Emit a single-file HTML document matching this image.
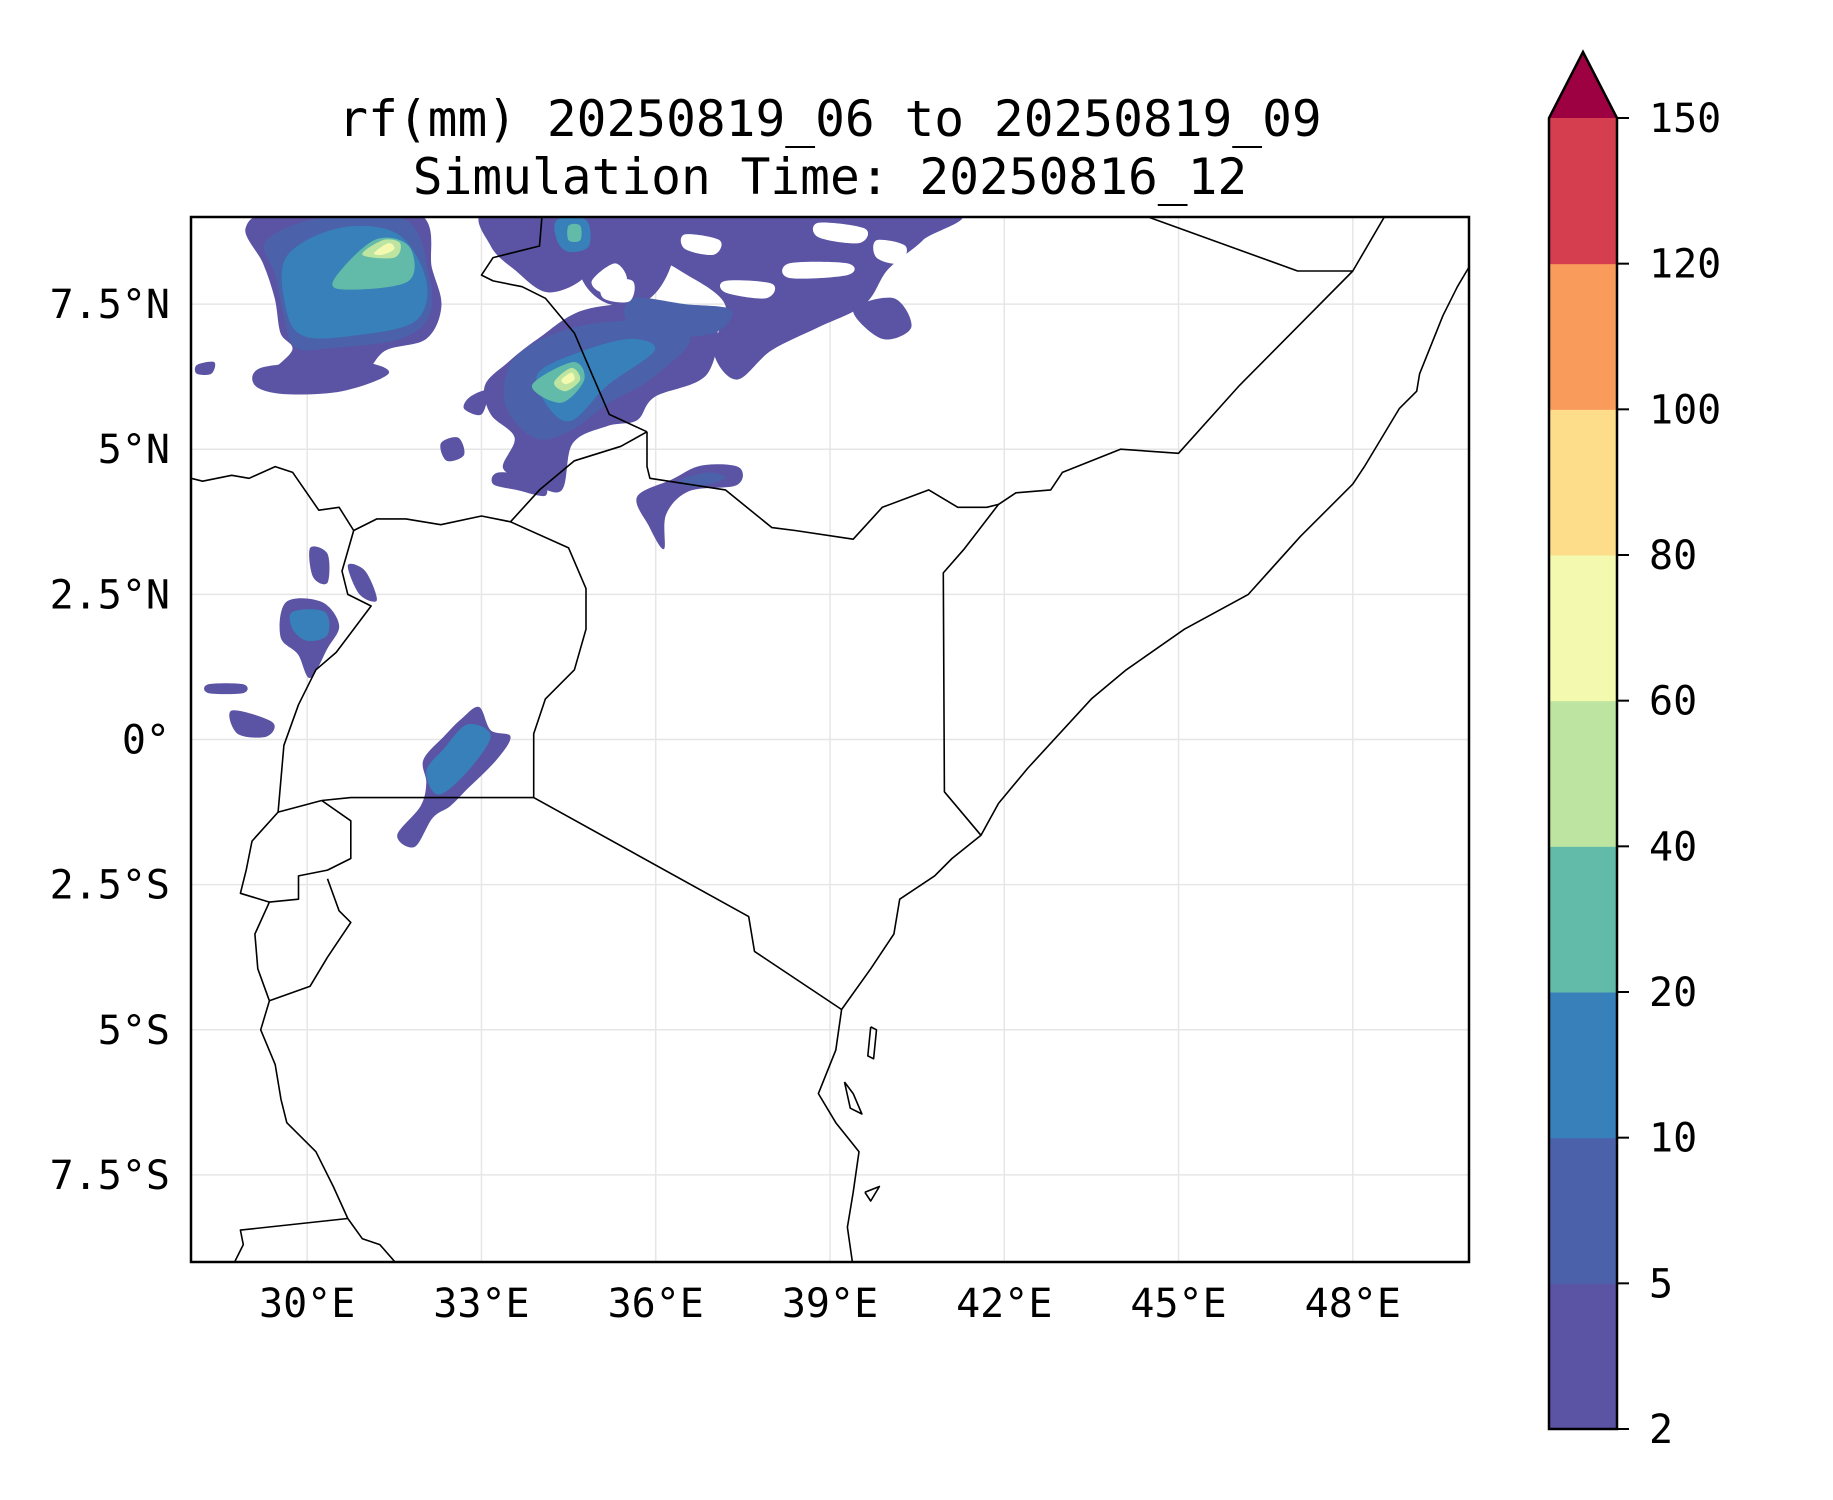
<!DOCTYPE html>
<html><head><meta charset="utf-8">
<style>
html,body{margin:0;padding:0;background:#fff;}
svg{display:block;font-family:"DejaVu Sans Mono","Liberation Mono",monospace;}
</style></head>
<body>
<svg id="fig" width="1833" height="1500" viewBox="0 0 1833 1500" xmlns="http://www.w3.org/2000/svg">
<rect width="1833" height="1500" fill="#fff"/>
<text x="830" y="136" font-size="49.5" text-anchor="middle">rf(mm) 20250819_06 to 20250819_09</text>
<text x="830" y="194" font-size="49.5" text-anchor="middle">Simulation Time: 20250816_12</text>
<defs><clipPath id="axclip"><rect x="191" y="217" width="1278" height="1045"/></clipPath></defs>
<g id="grid"></g>
<g id="rain" clip-path="url(#axclip)"></g>
<g id="borders" clip-path="url(#axclip)"></g>
<rect x="191" y="217" width="1278" height="1045" fill="none" stroke="#000" stroke-width="2.5"/>
<g id="ticks"></g>
<g id="cbar"></g>
</svg>
<script>
const lonMin=28, lonMax=50, latMin=-9, latMax=9;
const lonTicks=[30,33,36,39,42,45,48];
const lonTickLabels=["30°E","33°E","36°E","39°E","42°E","45°E","48°E"];
const latTicks=[7.5,5,2.5,0,-2.5,-5,-7.5];
const latTickLabels=["7.5°N","5°N","2.5°N","0°","2.5°S","5°S","7.5°S"];
const levels=[2,5,10,20,40,60,80,100,120,150];
const levelColors=["#5b53a3","#4b62ab","#3780b9","#62bba9","#bde4a0","#f3f9ae","#fddd89","#f99c5b","#d53e4f"];
const overColor="#9e0142";

const AX={x0:191,x1:1469,y0:217,y1:1262};
function X(lon){return AX.x0+(lon-lonMin)/(lonMax-lonMin)*(AX.x1-AX.x0);}
function Y(lat){return AX.y0+(latMax-lat)/(latMax-latMin)*(AX.y1-AX.y0);}
const NS="http://www.w3.org/2000/svg";
function mk(tag,attrs,parent){const e=document.createElementNS(NS,tag);for(const k in attrs)e.setAttribute(k,attrs[k]);parent.appendChild(e);return e;}

const rainBlobs=[
 {lvl:0,pts:[[28.94,8.81],[29.54,9.1],[31.85,9.1],[32.15,8.11],[32.31,7.46],[32.05,6.9],[31.35,6.7],[30.95,6.3],[30.15,6.1],[29.54,6.1],[29.24,6.2],[29.74,6.7],[29.54,7.0],[29.44,7.6],[29.24,8.2]]},
 {lvl:1,pts:[[29.3,8.6],[30.3,9.0],[31.7,8.95],[32.1,8.0],[32.1,7.3],[31.6,6.9],[30.5,6.75],[29.8,6.75],[29.6,7.3],[29.45,8.0]]},
 {lvl:2,pts:[[29.64,8.31],[30.55,8.81],[31.55,8.71],[32.05,7.9],[31.85,7.2],[30.75,6.95],[29.94,6.95],[29.64,7.4]]},
 {lvl:3,pts:[[30.45,7.9],[31.15,8.6],[31.75,8.5],[31.75,7.9],[30.75,7.75]]},
 {lvl:4,pts:[[30.95,8.35],[31.3,8.6],[31.6,8.55],[31.5,8.3]]},
 {lvl:5,pts:[[31.15,8.38],[31.4,8.55],[31.5,8.45],[31.3,8.35]]},
 {lvl:0,pts:[[29.2,6.4],[30.2,6.5],[31.0,6.5],[31.4,6.3],[30.6,6.0],[29.6,5.95],[29.1,6.1]]},
 {lvl:0,pts:[[33.06,9.1],[34.77,9.1],[34.87,8.1],[34.17,7.7],[33.56,8.1],[33.16,8.5]]},
 {lvl:0,pts:[[34.6,9.1],[36.2,9.1],[36.3,8.3],[35.9,7.6],[35.2,7.5],[34.7,8.0]]},
 {lvl:2,pts:[[34.3,8.95],[34.8,8.95],[34.85,8.5],[34.5,8.4],[34.3,8.6]]},
 {lvl:3,pts:[[34.5,8.85],[34.7,8.85],[34.7,8.6],[34.5,8.6]]},
 {lvl:0,pts:[[33.97,6.9],[34.77,7.4],[35.98,7.5],[36.99,7.3],[36.89,6.3],[35.98,5.9],[35.68,5.5],[35.17,5.4],[34.57,5.1],[34.37,4.28],[33.77,4.48],[33.37,4.68],[33.57,5.2],[33.16,5.6],[33.06,6.1],[33.46,6.5]]},
 {lvl:1,pts:[[33.6,6.6],[34.6,7.1],[35.9,7.2],[36.6,6.9],[35.9,6.2],[35.2,5.8],[34.5,5.3],[33.9,5.2],[33.4,5.8]]},
 {lvl:2,pts:[[33.97,6.3],[34.77,6.7],[35.58,6.9],[35.98,6.7],[35.17,6.1],[34.57,5.5],[34.17,5.7]]},
 {lvl:3,pts:[[33.87,6.1],[34.57,6.5],[34.77,6.2],[34.37,5.8]]},
 {lvl:4,pts:[[34.25,6.15],[34.55,6.4],[34.7,6.2],[34.45,6.0]]},
 {lvl:5,pts:[[34.38,6.2],[34.55,6.32],[34.6,6.2],[34.45,6.12]]},
 {lvl:0,pts:[[35.98,9.1],[41.0,9.1],[40.6,8.6],[40.0,8.1],[39.6,7.5],[38.8,7.1],[37.99,6.7],[37.39,6.2],[36.99,6.7],[37.19,7.5],[36.38,8.1],[35.88,8.4]]},
 {lvl:0,pts:[[39.4,7.4],[40.1,7.6],[40.4,7.1],[39.9,6.9]]},
 {lvl:1,pts:[[35.6,7.6],[36.5,7.5],[37.3,7.4],[37.0,7.0],[36.0,6.95],[35.5,7.2]]},
 {lvl:0,pts:[[35.68,4.18],[36.28,4.48],[36.79,4.72],[37.43,4.69],[37.39,4.38],[36.58,4.28],[36.18,3.88],[36.14,3.28],[35.88,3.68]]},
 {lvl:1,pts:[[36.4,4.45],[36.9,4.6],[37.2,4.5],[36.7,4.35]]},
 {lvl:0,pts:[[33.3,4.6],[34.0,4.5],[34.1,4.2],[33.6,4.3],[33.2,4.4]]},
 {lvl:0,pts:[[29.64,2.37],[30.25,2.37],[30.55,1.97],[30.35,1.57],[30.05,1.06],[29.84,1.47],[29.54,1.77]]},
 {lvl:2,pts:[[29.75,2.2],[30.3,2.2],[30.35,1.8],[30.0,1.7],[29.75,1.9]]},
 {lvl:0,pts:[[30.05,3.3],[30.35,3.2],[30.35,2.7],[30.1,2.8]]},
 {lvl:0,pts:[[30.7,3.0],[31.0,2.9],[31.2,2.4],[30.9,2.5]]},
 {lvl:0,pts:[[28.3,0.95],[28.9,0.95],[28.9,0.8],[28.3,0.8]]},
 {lvl:0,pts:[[28.7,0.5],[29.4,0.3],[29.3,0.05],[28.8,0.1]]},
 {lvl:0,pts:[[28.1,6.45],[28.4,6.5],[28.35,6.3],[28.1,6.3]]},
 {lvl:0,pts:[[32.96,0.56],[33.16,0.16],[33.5,0.05],[33.26,-0.35],[32.76,-0.85],[32.46,-1.15],[32.16,-1.35],[31.85,-1.85],[31.55,-1.65],[31.95,-1.15],[32.05,-0.75],[32.0,-0.35],[32.36,0.06],[32.66,0.36]]},
 {lvl:2,pts:[[32.76,0.26],[33.16,0.06],[32.76,-0.55],[32.26,-0.95],[32.05,-0.55],[32.36,-0.15]]},
 {lvl:0,pts:[[32.3,5.1],[32.6,5.2],[32.7,4.9],[32.4,4.8]]},
 {lvl:0,pts:[[32.8,5.9],[33.1,6.0],[33.0,5.6],[32.7,5.7]]}
];
const rainHoles=[
 {pts:[[38.3,8.2],[39.3,8.2],[39.3,8.0],[38.3,7.95]]},
 {pts:[[37.2,7.9],[38.0,7.85],[37.9,7.6],[37.2,7.7]]},
 {pts:[[38.8,8.9],[39.6,8.8],[39.5,8.55],[38.8,8.65]]},
 {pts:[[36.5,8.7],[37.1,8.6],[37.0,8.35],[36.5,8.45]]},
 {pts:[[39.8,8.6],[40.3,8.5],[40.2,8.2],[39.8,8.3]]},
 {pts:[[35.1,7.9],[35.6,7.9],[35.55,7.55],[35.1,7.6]]},
 {pts:[[34.9,7.9],[35.3,8.2],[35.5,7.9],[35.1,7.7]]}
];
const lines=[
 [[49.96,8.07],[49.8,7.8],[49.55,7.3],[49.15,6.3],[49.1,6.0],[48.8,5.7],[48.2,4.7],[48.0,4.4],[47.1,3.5],[46.2,2.5],[45.1,1.9],[44.1,1.2],[43.5,0.7],[42.4,-0.5],[41.9,-1.1],[41.6,-1.65],[41.1,-2.05],[40.8,-2.35],[40.2,-2.75],[40.1,-3.35],[39.7,-3.95],[39.2,-4.65],[39.1,-5.35],[38.8,-6.1],[39.1,-6.6],[39.5,-7.1],[39.4,-7.8],[39.3,-8.4],[39.4,-9.1]],
 [[50.1,8.3],[49.96,8.07]],
 [[41.6,-1.65],[40.97,-0.9],[40.95,2.87],[41.3,3.27],[41.9,4.05],[42.2,4.25],[42.8,4.3],[43.0,4.6],[44.0,5.0],[45.0,4.93],[46.05,6.1],[48.0,8.07],[48.6,9.1]],
 [[48.0,8.07],[47.05,8.07],[44.2,9.1]],
 [[41.9,4.05],[41.7,4.0],[41.2,4.0],[40.7,4.3],[39.9,4.0],[39.4,3.45],[38.4,3.6],[38.0,3.65],[37.2,4.3],[35.9,4.5],[35.85,4.7],[35.85,5.3]],
 [[35.85,5.3],[35.4,5.05],[34.6,4.8],[34.0,4.3],[33.5,3.75],[33.0,3.85],[32.3,3.7],[31.7,3.8],[31.2,3.8],[30.8,3.6],[30.55,4.0],[30.2,3.95],[29.75,4.6],[29.45,4.7],[29.0,4.5],[28.7,4.55],[28.2,4.45],[28.0,4.5]],
 [[35.85,5.3],[35.2,5.6],[34.9,6.3],[34.6,7.0],[34.1,7.6],[33.7,7.8],[33.2,7.9],[33.0,8.0],[33.2,8.3],[34.0,8.5],[34.05,9.1]],
 [[33.5,3.75],[34.5,3.3],[34.8,2.6],[34.8,1.9],[34.6,1.2],[34.1,0.7],[33.9,0.1],[33.9,-1.0]],
 [[33.9,-1.0],[37.6,-3.05],[37.7,-3.65],[39.2,-4.65]],
 [[33.9,-1.0],[30.75,-1.0],[30.25,-1.05]],
 [[30.8,3.6],[30.6,2.9],[30.7,2.5],[31.1,2.3],[30.5,1.5],[30.15,1.2],[29.85,0.6],[29.6,-0.1],[29.5,-1.25],[30.25,-1.05]],
 [[29.5,-1.25],[29.05,-1.75],[28.95,-2.25],[28.85,-2.65],[29.35,-2.8],[29.85,-2.75],[29.85,-2.35],[30.35,-2.25],[30.75,-2.05],[30.75,-1.4],[30.25,-1.05]],
 [[30.35,-2.4],[30.55,-2.95],[30.75,-3.15],[30.35,-3.75],[30.05,-4.25],[29.35,-4.5]],
 [[29.35,-2.8],[29.1,-3.35],[29.15,-3.95],[29.35,-4.5],[29.2,-5.0],[29.45,-5.6],[29.55,-6.2],[29.65,-6.6],[30.15,-7.1],[30.45,-7.7],[30.7,-8.25],[30.95,-8.6],[31.25,-8.7],[31.6,-9.1]],
 [[30.7,-8.25],[28.85,-8.45],[28.9,-8.7],[28.7,-9.1]],
 [[39.7,-4.95],[39.8,-5.0],[39.75,-5.5],[39.65,-5.45],[39.7,-4.95]],
 [[39.25,-5.9],[39.4,-6.1],[39.55,-6.45],[39.35,-6.35],[39.25,-5.9]],
 [[39.6,-7.8],[39.85,-7.7],[39.7,-7.95],[39.6,-7.8]]
];

function smoothPath(pts){
  const p=pts.map(q=>[X(q[0]),Y(q[1])]);const n=p.length;let d="M"+p[0][0].toFixed(1)+","+p[0][1].toFixed(1);
  for(let i=0;i<n;i++){const p0=p[(i-1+n)%n],p1=p[i],p2=p[(i+1)%n],p3=p[(i+2)%n];
    const c1=[p1[0]+(p2[0]-p0[0])/6,p1[1]+(p2[1]-p0[1])/6],c2=[p2[0]-(p3[0]-p1[0])/6,p2[1]-(p3[1]-p1[1])/6];
    d+="C"+c1.map(v=>v.toFixed(1))+" "+c2.map(v=>v.toFixed(1))+" "+p2.map(v=>v.toFixed(1));}
  return d+"Z";
}
const grid=document.getElementById('grid');
lonTicks.forEach(v=>{const l=mk('line',{x1:X(v),x2:X(v),y1:AX.y0,y2:AX.y1,stroke:'#e6e6e6','stroke-width':1.5},grid);

});
latTicks.forEach(v=>{const l=mk('line',{x1:AX.x0,x2:AX.x1,y1:Y(v),y2:Y(v),stroke:'#e6e6e6','stroke-width':1.5},grid);

});

const rain=document.getElementById('rain');
rainBlobs.forEach(b=>{const e=mk('path',{d:smoothPath(b.pts),fill:levelColors[b.lvl]},rain);

});
rainHoles.forEach(b=>{const e=mk('path',{d:smoothPath(b.pts),fill:'#fff'},rain);

});

const bd=document.getElementById('borders');
lines.forEach(L=>{const e=mk('polyline',{points:L.map(q=>X(q[0]).toFixed(1)+","+Y(q[1]).toFixed(1)).join(" "),fill:'none',stroke:'#000','stroke-width':1.6,'stroke-linejoin':'round'},bd);

});

const tk=document.getElementById('ticks');
lonTicks.forEach((v,i)=>{const t=mk('text',{x:X(v),y:1317,'font-size':40,'text-anchor':'middle'},tk);t.textContent=lonTickLabels[i];

});
latTicks.forEach((v,i)=>{const t=mk('text',{x:170,y:Y(v)+14,'font-size':40,'text-anchor':'end'},tk);t.textContent=latTickLabels[i];

});

const cb=document.getElementById('cbar');
const CB={x0:1549,x1:1617,top:118,bot:1429,apex:52};
function CY(i){return CB.bot-i*(CB.bot-CB.top)/(levels.length-1);}
levelColors.forEach((c,i)=>{const r=mk('rect',{x:CB.x0,y:CY(i+1),width:CB.x1-CB.x0,height:CY(i)-CY(i+1)+0.5,fill:c},cb);

});
const tri=mk('polygon',{points:`${CB.x0},${CB.top} ${(CB.x0+CB.x1)/2},${CB.apex} ${CB.x1},${CB.top}`,fill:overColor},cb);


const ol=mk('polygon',{points:`${CB.x0},${CB.bot} ${CB.x0},${CB.top} ${(CB.x0+CB.x1)/2},${CB.apex} ${CB.x1},${CB.top} ${CB.x1},${CB.bot}`,fill:'none',stroke:'#000','stroke-width':2.5},cb);


levels.forEach((v,i)=>{const y=CY(i);
const l=mk('line',{x1:CB.x1,x2:CB.x1+12,y1:y,y2:y,stroke:'#000','stroke-width':2},cb);


const t=mk('text',{x:CB.x1+32,y:y+14,'font-size':40},cb);t.textContent=String(v);

});
</script>
</body></html>
